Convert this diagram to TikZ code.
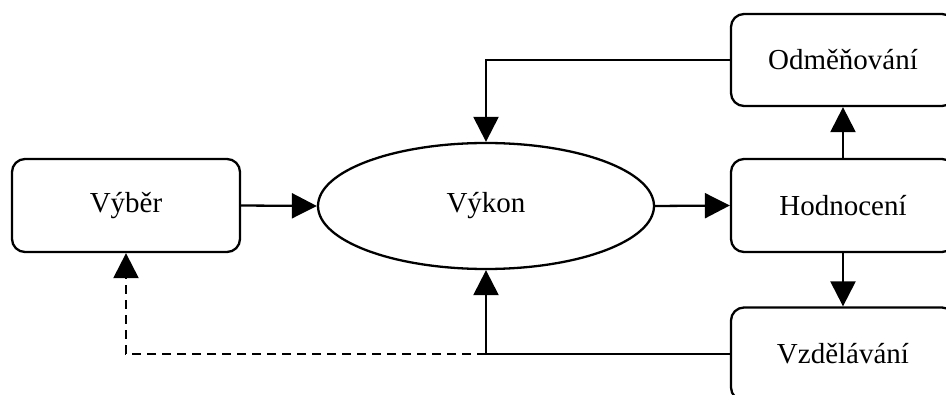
\documentclass[tikz,border=0pt]{standalone}
\usepackage{fontspec}
\setmainfont{Liberation Serif}
\usetikzlibrary{shapes.geometric,arrows.meta}

\tikzset{
  box/.style={draw, line width=2.3pt, rounded corners=13pt, minimum width=224pt,
              minimum height=93pt, inner sep=0pt, font=\fontsize{29}{33}\selectfont},
  oval/.style={draw, ellipse, line width=2.3pt, minimum width=336pt,
               minimum height=126pt, inner sep=0pt, font=\fontsize{29}{33}\selectfont},
  link/.style={line width=2.3pt, -{Triangle[length=25pt,width=25pt]}},
  dlink/.style={link, dash pattern=on 9pt off 6pt},
}

\begin{document}
\begin{tikzpicture}[x=1pt,y=1pt]
  \useasboundingbox (0,0) rectangle (946,394);

  \node[box, minimum width=228pt] (vyber) at (126,188.5) {Výběr};
  \node[oval] (vykon) at (486,188) {Výkon};
  \node[box] (hodn) at (843,188.5) {Hodnocení};
  \node[box, minimum height=92pt] (odm) at (843,334) {Odměňování};
  \node[box] (vzd) at (843,40) {Vzdělávání};

  \coordinate (join) at (vykon.south |- vzd.west);

  \draw[link] (vyber.east) -- (vykon.west);
  \draw[link] (vykon.east) -- (hodn.west);
  \draw[link] (hodn.north) -- (odm.south);
  \draw[link] (hodn.south) -- (vzd.north);
  \draw[link] (odm.west) -| (vykon.north);
  \draw[link] (vzd.west) -| (vykon.south);
  \draw[dlink] (join) -| (vyber.south);
\end{tikzpicture}
\end{document}
